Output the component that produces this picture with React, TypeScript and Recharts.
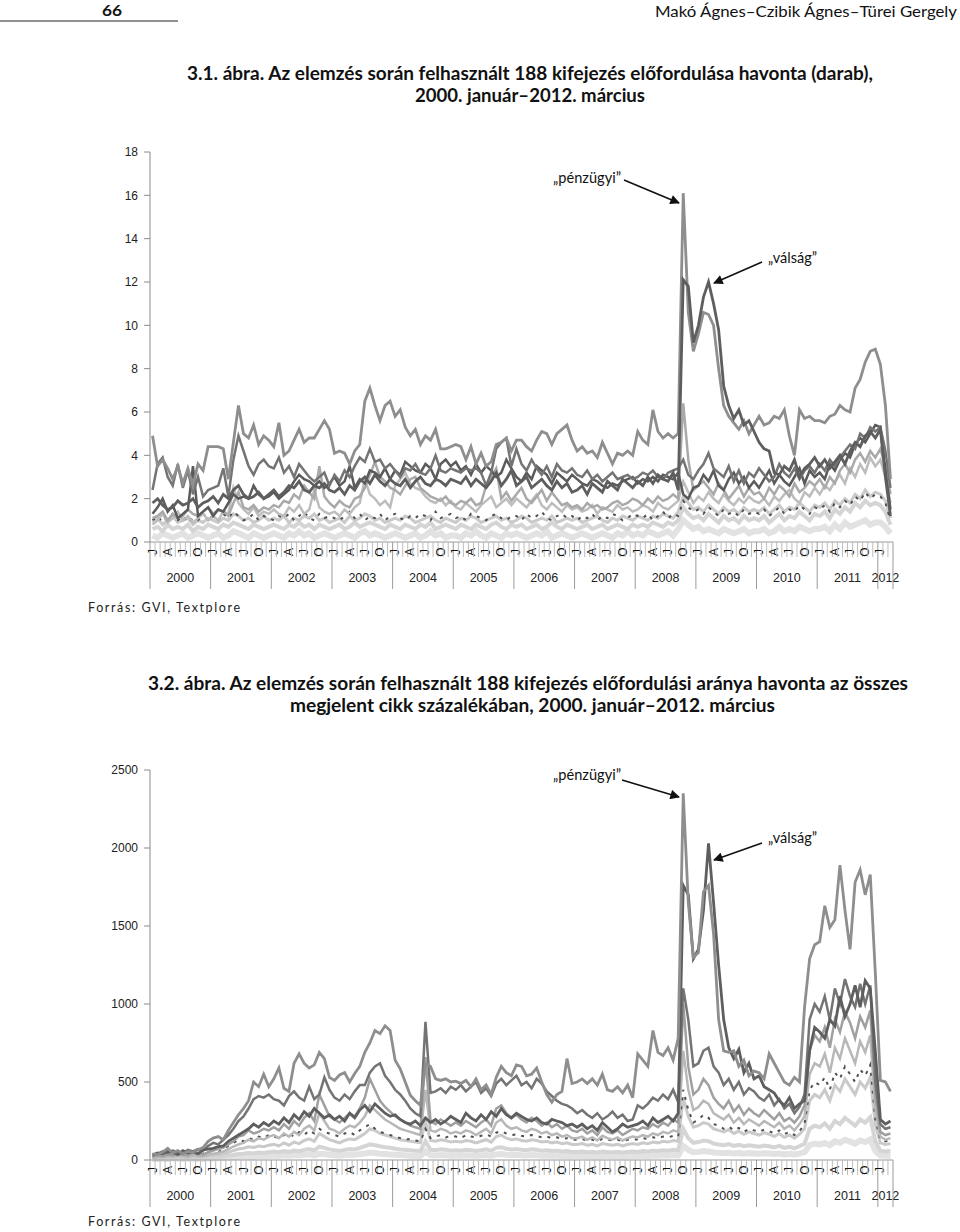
import React from 'react';
import { LineChart, Line, XAxis, YAxis } from 'recharts';

// ---- categories ----
const YEARS = ['2000', '2001', '2002', '2003', '2004', '2005', '2006', '2007', '2008', '2009', '2010', '2011', '2012'];
const MONTH_LETTERS = ['J', 'A', 'J', 'O'];
const COUNT_TICKS = [0, 2, 4, 6, 8, 10, 12, 14, 16, 18];
const SHARE_TICKS = [0, 500, 1000, 1500, 2000, 2500];

// ---- 3.1. ábra: occurrences per month (a few of the 188 series) ----
const countPenzugyi = [
  4.9, 3.5, 3.8, 3.4, 2.9, 3.5, 2.7, 3.4, 2.6, 3.6, 3.3, 4.4,
  4.4, 4.4, 4.3, 2.9, 4.6, 6.3, 5.0, 4.8, 5.4, 4.5, 4.9, 4.7,
  4.4, 5.5, 4.0, 4.2, 4.7, 5.2, 4.6, 4.8, 4.8, 5.2, 5.6, 5.2,
  4.1, 4.2, 4.1, 3.6, 4.2, 4.5, 6.5, 7.1, 6.3, 5.6, 6.3, 6.5,
  5.8, 6.1, 5.3, 4.9, 5.2, 4.5, 4.9, 4.7, 5.2, 4.3, 4.3, 4.4,
  4.5, 4.4, 3.8, 4.4, 3.6, 4.1, 3.5, 3.7, 4.5, 4.6, 4.8, 4.2,
  4.7, 4.7, 4.4, 4.2, 4.7, 5.1, 5.0, 4.5, 5.0, 5.2, 5.4, 4.7,
  4.2, 4.4, 4.1, 4.2, 3.9, 4.6, 4.1, 3.6, 4.1, 4.0, 4.2, 4.0,
  5.1, 4.7, 4.5, 6.1, 5.1, 4.8, 5.0, 4.8, 5.0, 16.1, 10.6, 8.8,
  9.6, 10.6, 10.5, 10.0, 8.0, 6.3, 5.8, 5.5, 5.2, 5.6, 5.0, 5.4,
  5.8, 5.4, 5.5, 5.8, 5.7, 6.1, 4.9, 4.0, 6.1, 5.7, 5.8, 5.6,
  5.6, 5.5, 5.8, 5.9, 6.3, 6.1, 6.0, 7.1, 7.5, 8.3, 8.8, 8.9,
  8.2, 6.3, 2.9,
];
const countValsag = [
  1.8, 2.0, 1.7, 1.5, 1.6, 1.9, 1.7, 1.8, 2.0, 1.6, 1.8, 1.9,
  2.1, 1.8, 2.2, 2.0, 2.4, 2.6, 2.2, 2.0, 2.1, 2.3, 2.0, 2.2,
  2.4, 2.1, 2.3, 2.6, 2.5, 2.8, 2.4, 2.3, 2.6, 2.5, 2.7, 2.4,
  2.3, 2.5, 2.2, 2.6, 2.4, 2.8, 3.0, 2.7, 3.1, 2.8, 2.6, 2.9,
  2.7, 2.6, 2.9, 2.5, 2.8, 3.0, 2.7, 2.6, 2.9, 2.8, 2.6, 2.9,
  2.8, 2.7, 3.0, 2.6, 2.9, 2.7, 2.5, 2.8, 3.2, 2.6, 2.9, 3.3,
  2.6, 2.8, 3.0, 2.5, 2.7, 2.9, 2.6, 2.4, 2.8, 2.5, 2.7, 2.3,
  2.4, 2.6, 2.2, 2.7, 2.5, 2.3, 2.8, 2.6, 2.4, 2.9, 2.7, 2.5,
  2.8, 2.6, 3.0, 2.7, 3.1, 2.9, 2.8, 3.2, 2.4, 12.1, 11.8, 9.2,
  10.0, 11.3, 12.0, 11.0, 9.8, 7.2, 6.3, 5.7, 6.1, 5.4, 5.6, 5.1,
  4.6, 4.3, 4.2, 3.2, 3.1, 3.5, 3.3, 3.8, 3.0, 3.4, 3.6, 3.9,
  3.5, 3.8, 3.4, 3.7, 4.0, 3.6, 4.2, 4.6, 4.4, 4.9, 5.1, 4.8,
  5.2, 3.0, 1.2,
];
const countMid1 = [
  2.4, 3.6, 3.9, 3.0, 2.6, 3.6, 2.5, 3.3, 2.2, 3.0, 2.1, 2.4,
  2.5, 2.6, 3.4, 2.1, 3.8, 4.9, 4.2, 3.5, 3.1, 3.6, 3.8, 3.5,
  3.4, 3.9, 3.2, 3.5, 3.0, 3.6, 3.3, 3.0, 2.8, 3.0, 3.2, 2.6,
  3.1, 2.8, 3.3, 3.0, 3.5, 3.9, 3.7, 4.3, 3.7, 3.8, 3.4, 3.6,
  3.3, 3.0, 3.4, 3.3, 3.6, 3.2, 3.1, 3.4, 4.0, 3.3, 3.2, 3.4,
  3.3, 3.2, 3.4, 3.3, 3.4, 3.2, 2.6, 3.2, 4.3, 4.6, 4.8, 3.5,
  4.3, 3.6, 3.3, 3.8, 3.4, 3.1, 3.5, 3.0, 3.6, 3.3, 3.2, 3.4,
  3.1, 3.0, 3.3, 2.9, 3.1, 2.8, 3.0, 3.2, 2.9, 3.0, 3.1, 2.9,
  3.0, 3.2, 3.1, 3.3, 3.0, 2.9, 3.2, 3.3, 3.4, 3.8, 3.1, 2.9,
  3.3, 3.6, 4.1, 3.4, 3.2, 3.0, 3.5, 2.8, 3.3, 2.7, 3.2, 3.0,
  3.4, 3.1, 2.8, 3.0, 3.6, 3.2, 3.0, 3.4, 2.9, 3.3, 3.5, 3.2,
  3.6, 3.3, 3.8, 3.5, 3.9, 4.2, 4.5, 4.3, 5.0, 4.8, 5.3, 5.1,
  5.3, 4.2, 2.5,
];
const countMid2 = [
  1.3, 1.6, 2.0, 1.4, 1.7, 1.1, 1.3, 1.5, 3.5, 1.2, 1.4, 1.6,
  1.2, 1.5, 1.4, 1.8, 2.2, 2.0, 2.1, 2.0, 2.6, 2.2, 2.0, 2.1,
  2.3, 2.0, 2.2, 2.4, 2.8, 3.1, 2.9, 2.8, 2.6, 2.8, 2.5, 2.7,
  3.0, 2.6, 2.8, 3.5, 2.5, 2.9, 2.7, 3.3, 3.2, 3.0, 3.4, 2.9,
  3.3, 3.1, 3.7, 3.5, 3.3, 3.2, 3.6, 3.4, 2.9, 3.6, 3.8, 3.5,
  3.7, 3.3, 3.5, 3.1, 3.6, 3.2, 3.5, 3.3, 3.0, 3.2, 3.8, 3.4,
  3.0, 2.8, 3.2, 2.9, 3.5, 3.3, 3.1, 2.7, 3.2, 3.0, 2.8, 3.1,
  2.9, 2.7, 2.6, 2.9, 2.8, 2.6, 2.5, 2.7, 2.6, 2.8, 2.9, 3.0,
  2.7, 2.9, 2.8, 3.0, 2.8, 3.1, 3.0, 2.9, 3.2, 2.2, 2.0, 2.5,
  2.6, 3.1, 2.8, 3.3, 2.6, 2.4, 2.9, 3.2, 2.7, 3.0, 2.5, 2.8,
  2.5, 2.9, 3.3, 2.7, 3.1, 2.8, 2.6, 3.0, 3.4, 2.7, 3.3, 3.0,
  3.2, 2.9, 3.6, 3.3, 3.8, 4.1, 3.9, 4.5, 4.8, 4.6, 5.0, 5.4,
  5.3, 3.3, 1.5,
];
const countLight1 = [
  1.1, 1.2, 1.4, 1.0, 1.3, 1.1, 1.2, 1.5, 1.3, 1.2, 1.4, 1.6,
  1.3, 1.5, 1.4, 1.2, 1.8, 2.3, 1.6, 1.5, 1.7, 1.4, 1.6, 1.5,
  1.7, 1.6, 1.9, 1.8, 2.2, 2.0, 2.6, 2.3, 2.0, 3.5, 2.1, 1.8,
  1.6, 1.9, 1.7, 1.6, 2.0, 2.1, 2.5, 3.1, 3.7, 3.0, 2.8, 2.5,
  2.4, 2.2, 2.6, 2.9, 3.0, 2.5, 2.3, 2.1, 2.0, 1.9, 2.1, 1.8,
  1.7, 1.9, 1.8, 2.0, 1.7, 1.8, 2.6, 3.0, 3.4, 2.0, 2.3, 1.9,
  2.2, 2.5, 2.0, 1.8, 2.1, 2.4, 1.9, 2.3, 2.0, 1.7, 1.8, 1.6,
  1.7, 1.5, 1.8, 1.6, 1.7, 1.5, 1.6, 1.8, 1.9, 1.7, 1.8, 2.0,
  1.9, 1.7, 2.0, 1.8, 2.1, 1.9, 2.0, 2.2, 2.0, 6.4, 3.8, 2.4,
  2.6, 2.8, 2.5, 2.2, 2.7, 2.4, 2.0, 2.3, 2.6, 2.1, 2.5, 2.2,
  2.3, 2.0, 2.5, 2.2, 2.6, 2.4, 2.1, 2.7, 2.3, 2.5, 2.8, 2.6,
  2.9, 2.5, 3.0, 2.7, 3.3, 3.6, 3.2, 3.8, 4.1, 3.7, 4.2, 3.9,
  4.3, 3.5, 2.2,
];
const countLight2 = [
  0.8, 1.0, 1.3, 0.9, 1.1, 1.4, 1.0, 1.2, 0.9, 1.1, 1.3, 1.0,
  1.2, 1.0, 1.4, 1.3, 2.5, 1.8, 1.5, 1.3, 1.6, 1.2, 1.4, 1.3,
  1.5, 1.3, 1.2, 1.6, 1.4, 1.7, 1.3, 1.5, 2.4, 1.6, 1.4, 1.3,
  1.4, 1.2, 1.5, 1.3, 1.6, 1.8, 2.9, 2.2, 2.0, 1.7, 1.9, 1.6,
  2.6, 2.9, 3.2, 2.7, 2.5, 2.4, 2.1, 1.9, 1.8, 2.0, 1.7, 1.9,
  1.6, 1.5, 1.8, 1.6, 1.4, 1.7, 1.9, 2.1, 1.6, 1.8, 2.0, 1.7,
  2.0, 1.8, 1.6, 1.9, 2.2, 1.7, 1.5, 1.8, 1.6, 1.4, 1.7, 1.5,
  1.6, 1.4, 1.5, 1.7, 1.3, 1.6, 1.5, 1.4, 1.7, 1.5, 1.6, 1.4,
  1.5, 1.7, 1.6, 1.4, 1.8, 1.6, 1.5, 1.7, 1.9, 2.8, 2.3, 1.8,
  2.1, 1.9, 2.3, 2.0, 1.8, 2.2, 1.9, 1.7, 2.0, 1.8, 2.1, 1.9,
  1.8, 2.0, 1.7, 2.1, 1.9, 2.2, 2.4, 2.0, 1.8, 2.3, 2.1, 2.5,
  2.2, 2.6, 2.4, 2.8, 3.1, 2.7, 3.4, 3.0, 3.6, 3.2, 3.9, 3.5,
  3.8, 3.0, 1.8,
];
const countBack1 = [
  0.9, 1.1, 0.8, 1.0, 1.2, 0.9, 1.0, 1.1, 0.8, 1.0, 0.9, 1.1,
  1.0, 0.9, 1.1, 1.0, 1.3, 1.2, 1.0, 1.1, 0.9, 1.0, 1.2, 1.0,
  1.1, 1.0, 1.2, 0.9, 1.1, 1.0, 1.2, 1.1, 1.3, 1.0, 1.1, 0.9,
  1.0, 1.1, 0.9, 1.2, 1.0, 1.1, 1.3, 1.2, 1.0, 1.1, 0.9, 1.0,
  1.1, 1.0, 1.2, 1.1, 0.9, 1.0, 1.1, 1.2, 1.0, 0.9, 1.1, 1.0,
  0.9, 1.1, 1.0, 1.2, 1.1, 0.9, 1.0, 1.1, 1.2, 1.0, 1.1, 0.9,
  1.0, 1.2, 1.1, 0.9, 1.0, 1.1, 1.0, 1.2, 0.9, 1.0, 1.1, 1.0,
  1.1, 0.9, 1.0, 1.1, 1.2, 1.0, 0.9, 1.1, 1.0, 1.2, 1.1, 1.0,
  1.2, 1.1, 1.0, 1.2, 1.1, 1.3, 1.2, 1.1, 1.4, 2.1, 1.8, 1.5,
  1.6, 1.4, 1.7, 1.5, 1.3, 1.6, 1.4, 1.5, 1.3, 1.6, 1.4, 1.5,
  1.4, 1.6, 1.3, 1.5, 1.7, 1.4, 1.6, 1.5, 1.8, 1.6, 1.4, 1.7,
  1.6, 1.8, 1.5, 1.9, 1.7, 2.0, 1.8, 2.2, 2.0, 2.4, 2.1, 2.3,
  2.2, 1.9, 1.1,
];
const countBack2 = [
  0.6, 0.7, 0.5, 0.8, 0.6, 0.7, 0.6, 0.8, 0.5, 0.7, 0.6, 0.8,
  0.7, 0.6, 0.8, 0.7, 0.9, 0.8, 0.7, 0.6, 0.8, 0.7, 0.6, 0.7,
  0.8, 0.7, 0.6, 0.8, 0.7, 0.9, 0.7, 0.8, 0.6, 0.8, 0.7, 0.6,
  0.7, 0.8, 0.6, 0.7, 0.9, 0.7, 0.8, 0.9, 0.8, 0.7, 0.6, 0.8,
  0.7, 0.6, 0.8, 0.7, 0.6, 0.8, 0.7, 0.9, 0.6, 0.7, 0.8, 0.7,
  0.6, 0.8, 0.7, 0.6, 0.8, 0.7, 0.6, 0.8, 0.9, 0.7, 0.6, 0.8,
  0.7, 0.8, 0.6, 0.7, 0.8, 0.6, 0.7, 0.9, 0.7, 0.6, 0.8, 0.7,
  0.6, 0.7, 0.8, 0.6, 0.7, 0.8, 0.6, 0.7, 0.8, 0.7, 0.6, 0.8,
  0.7, 0.8, 0.7, 0.9, 0.8, 0.7, 0.9, 0.8, 1.0, 1.6, 1.3, 1.1,
  1.2, 1.0, 1.3, 1.1, 0.9, 1.2, 1.0, 1.1, 0.9, 1.2, 1.0, 1.1,
  1.0, 1.2, 0.9, 1.1, 1.3, 1.0, 1.2, 1.1, 1.4, 1.2, 1.0, 1.3,
  1.2, 1.4, 1.1, 1.5, 1.3, 1.6, 1.4, 1.8, 1.6, 1.9, 1.7, 1.8,
  1.7, 1.4, 0.8,
];
const countBack3 = [
  0.3, 0.2, 0.4, 0.3, 0.2, 0.3, 0.4, 0.2, 0.3, 0.4, 0.3, 0.2,
  0.3, 0.4, 0.2, 0.3, 0.5, 0.4, 0.3, 0.2, 0.4, 0.3, 0.2, 0.3,
  0.4, 0.3, 0.2, 0.4, 0.3, 0.5, 0.3, 0.4, 0.2, 0.3, 0.4, 0.3,
  0.2, 0.3, 0.4, 0.3, 0.2, 0.4, 0.5, 0.3, 0.4, 0.3, 0.2, 0.3,
  0.4, 0.3, 0.2, 0.3, 0.4, 0.2, 0.3, 0.5, 0.3, 0.4, 0.2, 0.3,
  0.3, 0.2, 0.4, 0.3, 0.5, 0.3, 0.2, 0.4, 0.3, 0.2, 0.4, 0.3,
  0.4, 0.3, 0.2, 0.3, 0.4, 0.3, 0.5, 0.2, 0.3, 0.4, 0.3, 0.2,
  0.3, 0.4, 0.3, 0.2, 0.3, 0.4, 0.3, 0.2, 0.4, 0.3, 0.5, 0.3,
  0.4, 0.3, 0.5, 0.4, 0.3, 0.4, 0.5, 0.3, 0.6, 1.0, 0.8, 0.6,
  0.7, 0.5, 0.6, 0.5, 0.4, 0.6, 0.5, 0.4, 0.5, 0.6, 0.4, 0.5,
  0.5, 0.6, 0.4, 0.5, 0.7, 0.5, 0.6, 0.5, 0.7, 0.6, 0.5, 0.6,
  0.6, 0.7, 0.5, 0.8, 0.6, 0.9, 0.7, 0.8, 0.9, 1.0, 0.8, 0.9,
  0.9, 0.7, 0.4,
];
const countDark = [
  1.0, 1.2, 0.9, 1.1, 1.3, 1.0, 1.2, 0.9, 1.1, 1.0, 1.3, 1.1,
  1.2, 1.0, 1.3, 1.1, 1.4, 1.2, 1.0, 1.1, 1.3, 1.0, 1.2, 1.1,
  1.0, 1.2, 1.1, 1.3, 1.0, 1.2, 1.4, 1.1, 1.0, 1.3, 1.1, 1.2,
  1.1, 1.0, 1.2, 1.4, 1.1, 1.3, 1.0, 1.2, 1.1, 1.3, 1.0, 1.2,
  1.3, 1.1, 1.0, 1.2, 1.1, 1.3, 1.2, 1.0, 1.4, 1.1, 1.2, 1.3,
  1.1, 1.2, 1.0, 1.3, 1.2, 1.1, 1.0, 1.2, 1.3, 1.1, 1.0, 1.2,
  1.2, 1.0, 1.3, 1.1, 1.2, 1.4, 1.1, 1.0, 1.2, 1.3, 1.1, 1.2,
  1.0, 1.2, 1.1, 1.3, 1.0, 1.2, 1.1, 1.3, 1.2, 1.0, 1.1, 1.3,
  1.2, 1.1, 1.3, 1.0, 1.2, 1.4, 1.1, 1.3, 1.2, 1.9, 1.6, 1.4,
  1.5, 1.3, 1.6, 1.4, 1.2, 1.5, 1.3, 1.4, 1.2, 1.5, 1.3, 1.4,
  1.3, 1.5, 1.2, 1.4, 1.6, 1.3, 1.5, 1.4, 1.7, 1.5, 1.3, 1.6,
  1.5, 1.7, 1.4, 1.8, 1.6, 1.9, 1.7, 2.1, 1.9, 2.3, 2.0, 2.2,
  2.1, 1.8, 1.0,
];

// ---- 3.2. ábra: share of all articles ----
const sharePenzugyi = [
  40, 35, 50, 75, 45, 60, 40, 55, 50, 65, 80, 120,
  140, 150, 130, 190, 240, 290, 330, 380, 500, 470, 550, 470,
  520, 590, 460, 440, 620, 680, 620, 590, 610, 690, 650, 530,
  510, 545, 560, 500, 555, 600, 690, 750, 830, 810, 860, 830,
  640, 585, 500, 415, 380, 350, 620, 600, 520, 510, 520, 500,
  505, 490, 510, 470, 520, 450, 480, 420, 530, 600, 560, 540,
  610, 600, 540, 550, 590, 500, 420, 370, 420, 440, 650, 490,
  500, 520, 490, 520, 480, 550, 450, 440, 470, 430, 480, 400,
  680, 640, 600, 830, 690, 670, 720, 640, 780, 2350, 1650, 1300,
  1330, 1720, 1760, 1450, 900, 700, 690, 700, 600, 640, 540, 570,
  560, 520, 680, 620, 560, 500, 480, 530, 500, 980, 1290, 1380,
  1400, 1630, 1490, 1540, 1890, 1600, 1350, 1780, 1860, 1700, 1830, 1200,
  510, 500, 440,
];
const shareValsag = [
  30, 45, 40, 55, 50, 35, 60, 45, 55, 40, 65, 70,
  75, 85, 90, 120, 140, 160, 180, 200, 230, 210, 240, 220,
  250, 230, 270, 240, 290, 260, 310, 280, 330, 300, 270, 290,
  260, 280, 250, 300, 270, 320, 350, 310, 360, 330, 300, 280,
  290, 260, 240, 230, 250, 220, 270, 240, 260, 230, 250, 280,
  260, 240, 300, 270, 250, 290, 260, 310, 280, 330, 290, 270,
  300, 280, 260, 250, 270, 240, 230, 260, 250, 240, 220, 230,
  210, 230, 200, 220, 190, 240, 210, 180, 200, 230, 210, 220,
  230, 250, 220, 270, 240, 260, 280, 250, 300, 1760, 1700, 1290,
  1350, 1600, 2030, 1650, 1250, 900, 720, 650, 710, 560, 620, 520,
  540, 470, 450, 430, 380, 350, 400, 330, 360, 380, 700, 850,
  820, 780, 900, 860, 1050, 920, 1000, 1120, 980, 1150, 1100, 700,
  260, 230, 250,
];
const shareMid1 = [
  35, 40, 55, 45, 60, 50, 40, 65, 55, 70, 60, 90,
  110, 100, 130, 160, 200, 250, 280, 330, 390, 410, 400, 420,
  390, 380, 350, 410, 440, 400, 380, 470, 390, 420, 530, 450,
  400, 380, 420, 390, 440, 480, 480, 560, 600, 620, 540, 500,
  450, 420, 380, 330, 300, 280, 885, 430, 440, 460, 430, 470,
  450, 480, 440, 470, 500, 430, 460, 410, 490, 520, 480, 510,
  540, 480, 500, 460, 520, 490, 440, 410, 380, 360, 350, 330,
  300, 320, 290, 270, 300, 260, 280, 310, 270, 290, 250, 260,
  350, 330, 360, 400, 380, 420, 390, 450, 370, 1100, 900, 600,
  620, 700, 720, 600, 560, 480, 520, 450, 500, 420, 460, 440,
  400, 380, 420, 350, 390, 330, 360, 300, 340, 420, 900, 1000,
  950, 1050, 900, 1100, 1000, 1160, 1050, 980, 1130, 1000, 1120, 500,
  230, 200, 210,
];
const shareMid2 = [
  20, 30, 25, 35, 30, 40, 35, 30, 45, 40, 35, 50,
  60, 70, 80, 100, 120, 150, 160, 190, 170, 180, 200, 190,
  210, 190, 230, 200, 250, 220, 270, 300, 250, 420, 350, 280,
  260, 240, 270, 300, 280, 330, 400, 520, 450, 380, 340, 310,
  280, 260, 240, 220, 210, 200, 660, 250, 230, 260, 240, 220,
  240, 220, 250, 230, 210, 240, 260, 220, 330, 350, 300, 270,
  290, 260, 240, 270, 250, 220, 240, 210, 230, 200, 220, 190,
  180, 200, 170, 190, 160, 210, 180, 170, 190, 160, 180, 200,
  190, 210, 200, 230, 210, 240, 220, 260, 240, 1000, 600, 420,
  450, 520, 480, 400, 360, 330, 380, 310, 350, 290, 330, 300,
  280, 320, 290, 260, 300, 250, 270, 240, 280, 350, 700, 800,
  760, 850, 720, 900, 820, 950, 880, 780, 920, 850, 960, 420,
  180, 160, 170,
];
const shareLight1 = [
  15, 20, 18, 25, 22, 28, 25, 20, 30, 26, 24, 35,
  40, 45, 55, 70, 85, 100, 110, 130, 120, 140, 130, 150,
  160, 140, 170, 150, 180, 160, 200, 220, 190, 300, 250, 200,
  190, 170, 200, 220, 210, 240, 280, 350, 320, 290, 260, 240,
  220, 200, 190, 180, 170, 160, 450, 190, 180, 200, 190, 170,
  180, 170, 190, 180, 160, 180, 200, 170, 240, 260, 220, 200,
  210, 190, 180, 200, 190, 170, 180, 160, 170, 150, 160, 140,
  140, 150, 130, 145, 125, 155, 140, 130, 145, 125, 140, 150,
  145, 160, 150, 170, 160, 180, 170, 190, 180, 700, 450, 320,
  340, 380, 360, 300, 280, 260, 290, 240, 270, 230, 260, 240,
  220, 250, 230, 210, 240, 200, 220, 190, 230, 280, 550, 620,
  600, 680, 560, 720, 650, 780, 700, 620, 760, 690, 800, 330,
  150, 130, 140,
];
const shareBack1 = [
  10, 15, 12, 18, 15, 20, 18, 15, 22, 18, 20, 25,
  30, 35, 40, 50, 60, 70, 75, 85, 80, 90, 85, 95,
  100, 90, 110, 95, 115, 105, 125, 135, 120, 170, 150, 130,
  120, 110, 125, 135, 130, 150, 170, 200, 190, 170, 160, 150,
  140, 130, 125, 120, 115, 110, 250, 125, 120, 130, 125, 115,
  120, 115, 125, 120, 110, 120, 130, 115, 150, 160, 140, 130,
  135, 125, 120, 130, 125, 115, 120, 110, 115, 105, 110, 100,
  100, 105, 95, 100, 90, 105, 100, 95, 100, 90, 100, 105,
  100, 110, 105, 115, 110, 120, 115, 125, 120, 400, 280, 210,
  220, 240, 230, 200, 190, 180, 195, 170, 185, 165, 180, 170,
  160, 175, 165, 150, 170, 145, 160, 140, 165, 200, 380, 420,
  400, 450, 380, 480, 440, 520, 470, 420, 500, 460, 530, 230,
  110, 100, 105,
];
const shareBack2 = [
  5, 8, 6, 10, 8, 12, 10, 8, 12, 10, 11, 14,
  16, 18, 22, 28, 32, 38, 40, 45, 42, 48, 45, 50,
  55, 50, 58, 52, 60, 56, 65, 70, 62, 85, 78, 68,
  62, 58, 65, 70, 68, 78, 88, 100, 95, 88, 82, 78,
  72, 68, 65, 62, 60, 58, 120, 65, 62, 68, 65, 60,
  62, 60, 65, 62, 58, 62, 68, 60, 78, 82, 72, 68,
  70, 65, 62, 68, 65, 60, 62, 58, 60, 55, 58, 52,
  52, 55, 50, 52, 48, 55, 52, 50, 52, 48, 52, 55,
  52, 58, 55, 60, 58, 62, 60, 65, 62, 200, 140, 110,
  115, 125, 120, 105, 100, 95, 102, 90, 98, 88, 95, 90,
  85, 92, 88, 80, 90, 78, 85, 75, 88, 105, 200, 220,
  210, 235, 200, 250, 230, 270, 245, 220, 260, 240, 275, 120,
  60, 55, 58,
];
const shareBack3 = [
  8, 5, 10, 7, 12, 9, 6, 11, 8, 10, 7, 12,
  10, 12, 14, 16, 18, 20, 22, 24, 20, 25, 22, 26,
  28, 25, 30, 27, 32, 29, 34, 36, 30, 40, 38, 33,
  30, 28, 32, 35, 33, 38, 42, 48, 45, 40, 38, 36,
  34, 32, 30, 28, 27, 26, 55, 30, 29, 32, 30, 28,
  29, 28, 30, 29, 27, 29, 32, 28, 36, 38, 34, 32,
  33, 30, 29, 32, 30, 28, 29, 27, 28, 26, 27, 25,
  25, 26, 24, 25, 23, 26, 25, 24, 25, 23, 25, 26,
  25, 28, 26, 29, 28, 30, 29, 32, 30, 90, 65, 50,
  52, 58, 55, 48, 46, 44, 47, 42, 45, 40, 44, 42,
  40, 43, 41, 38, 42, 36, 40, 35, 41, 50, 95, 105,
  100, 110, 95, 120, 110, 130, 118, 105, 125, 115, 132, 58,
  30, 27, 28,
];
const shareDark = [
  20, 30, 45, 35, 60, 40, 55, 35, 50, 45, 40, 55,
  60, 50, 70, 90, 110, 130, 120, 140, 130, 150, 140, 160,
  150, 140, 160, 170, 150, 180, 160, 190, 170, 200, 180, 170,
  160, 150, 170, 180, 160, 190, 210, 230, 200, 180, 170, 160,
  150, 140, 130, 135, 125, 120, 200, 140, 150, 160, 145, 155,
  150, 140, 160, 150, 145, 155, 165, 150, 175, 185, 170, 160,
  165, 155, 150, 160, 155, 145, 150, 140, 145, 135, 140, 130,
  130, 135, 125, 130, 120, 135, 130, 125, 130, 120, 130, 135,
  130, 140, 135, 145, 140, 150, 145, 155, 150, 450, 320, 240,
  260, 290, 270, 230, 220, 200, 215, 190, 205, 180, 200, 190,
  180, 195, 185, 170, 190, 165, 180, 160, 185, 230, 450, 500,
  480, 530, 450, 560, 520, 600, 550, 500, 580, 540, 610, 260,
  130, 120, 125,
];

const MONTHS = countPenzugyi.map((_, i) => i);

type Series = { key: string; values: number[]; color: string; width: number; dash?: string };

// drawn in this order (background first)
const COUNT_SERIES: Series[] = [
  { key: 'back3', values: countBack3, color: '#e2e2e2', width: 6 },
  { key: 'back2', values: countBack2, color: '#d5d5d5', width: 4 },
  { key: 'back1', values: countBack1, color: '#cacaca', width: 3 },
  { key: 'dark', values: countDark, color: '#505050', width: 2, dash: '3 6' },
  { key: 'light2', values: countLight2, color: '#bdbdbd', width: 2.5 },
  { key: 'light1', values: countLight1, color: '#a9a9a9', width: 2.5 },
  { key: 'mid2', values: countMid2, color: '#5a5a5a', width: 2.5 },
  { key: 'mid1', values: countMid1, color: '#747474', width: 2.5 },
  { key: 'penzugyi', values: countPenzugyi, color: '#8e8e8e', width: 2.8 },
  { key: 'valsag', values: countValsag, color: '#5e5e5e', width: 2.8 },
];

const SHARE_SERIES: Series[] = [
  { key: 'back3', values: shareBack3, color: '#e2e2e2', width: 6 },
  { key: 'back2', values: shareBack2, color: '#d5d5d5', width: 4 },
  { key: 'back1', values: shareBack1, color: '#cacaca', width: 3 },
  { key: 'dark', values: shareDark, color: '#505050', width: 2, dash: '3 6' },
  { key: 'light1', values: shareLight1, color: '#b8b8b8', width: 2.5 },
  { key: 'mid2', values: shareMid2, color: '#a0a0a0', width: 2.5 },
  { key: 'mid1', values: shareMid1, color: '#747474', width: 2.5 },
  { key: 'valsag', values: shareValsag, color: '#5e5e5e', width: 2.8 },
  { key: 'penzugyi', values: sharePenzugyi, color: '#8e8e8e', width: 2.8 },
];

const buildData = (series: Series[]) =>
  MONTHS.map((i) => {
    const row: Record<string, number> = { i };
    series.forEach((s) => { row[s.key] = s.values[i]; });
    return row;
  });

const countData = buildData(COUNT_SERIES);
const shareData = buildData(SHARE_SERIES);

// ---- layout ----
const CHART_W = 910;
const CHART_H = 460;
const MARGIN = { top: 12, right: 17, bottom: 0, left: 0 };
const Y_AXIS_W = 150;
const X_AXIS_H = 58;
const PLOT_W = CHART_W - MARGIN.left - MARGIN.right - Y_AXIS_W;
const STEP = PLOT_W / MONTHS.length;

const SANS = "'Liberation Sans', Arial, sans-serif";
const BOOK = "Lato, 'Open Sans', 'Noto Sans', sans-serif";

function MonthTick(props: any) {
  const { x, y, payload } = props;
  const i = payload.value as number;
  const n = MONTHS.length;
  const left = x - STEP / 2;
  const yearStart = i % 12 === 0;
  const year = Math.floor(i / 12);
  const inYear = Math.min(12, n - year * 12);
  const m = i % 12;
  let yearX: number | null = null;
  if (inYear % 2 === 0 && m === inYear / 2) yearX = left;
  if (inYear % 2 === 1 && m === (inYear - 1) / 2) yearX = x;
  return (
    <g>
      <line x1={left} x2={left} y1={y} y2={y + (yearStart ? 47 : 15)} stroke={yearStart ? '#9a9a9a' : '#bdbdbd'} strokeWidth={1} />
      {i === n - 1 && (
        <line x1={x + STEP / 2} x2={x + STEP / 2} y1={y} y2={y + 47} stroke="#9a9a9a" strokeWidth={1} />
      )}
      {m % 3 === 0 && (
        <text
          x={x}
          y={y + 10}
          transform={`rotate(-90 ${x} ${y + 10})`}
          textAnchor="middle"
          dominantBaseline="central"
          fontSize={12}
          fontFamily={SANS}
          fill="#111"
        >
          {MONTH_LETTERS[m / 3]}
        </text>
      )}
      {yearX !== null && (
        <text x={yearX} y={y + 40} textAnchor="middle" fontSize={12.5} fontFamily={SANS} fill="#222">
          {YEARS[year]}
        </text>
      )}
    </g>
  );
}

function MonthlyChart({ data, series, max, ticks, top }: { data: any[]; series: Series[]; max: number; ticks: number[]; top: number }) {
  return (
    <div style={{ position: 'absolute', left: 0, top, width: CHART_W, height: CHART_H }}>
      <LineChart width={CHART_W} height={CHART_H} data={data} margin={MARGIN}>
        <XAxis
          dataKey="i"
          type="number"
          domain={[-0.5, MONTHS.length - 0.5]}
          ticks={MONTHS}
          interval={0}
          height={X_AXIS_H}
          tickSize={0}
          tickMargin={0}
          tickLine={false}
          axisLine={{ stroke: '#9a9a9a' }}
          tick={(p: any) => <MonthTick {...p} />}
        />
        <YAxis
          width={Y_AXIS_W}
          domain={[0, max]}
          ticks={ticks}
          interval={0}
          tickSize={6}
          tickMargin={6}
          axisLine={{ stroke: '#8a8a8a' }}
          tickLine={{ stroke: '#8a8a8a' }}
          tick={{ fontSize: 12, fill: '#222', fontFamily: SANS }}
        />
        {series.map((s) => (
          <Line
            key={s.key}
            dataKey={s.key}
            stroke={s.color}
            strokeWidth={s.width}
            strokeDasharray={s.dash}
            dot={false}
            activeDot={false}
            isAnimationActive={false}
            type="linear"
          />
        ))}
      </LineChart>
    </div>
  );
}

function Arrow({ x1, y1, x2, y2 }: { x1: number; y1: number; x2: number; y2: number }) {
  return <line x1={x1} y1={y1} x2={x2} y2={y2} stroke="#111" strokeWidth={1.6} markerEnd="url(#arrowHead)" />;
}

function FitText({ x, y, w, size, bold, children }: { x: number; y: number; w: number; size: number; bold?: boolean; children: string }) {
  return (
    <text x={x} y={y} fontFamily={BOOK} fontWeight={bold ? 700 : 400} fontSize={size} textLength={w} lengthAdjust="spacingAndGlyphs" fill="#111">
      {children}
    </text>
  );
}

export default function App() {
  return (
    <div style={{ position: 'absolute', left: 0, top: 0, width: 960, height: 1232, background: '#fff', overflow: 'hidden' }}>
      <MonthlyChart data={countData} series={COUNT_SERIES} max={18} ticks={COUNT_TICKS} top={140} />
      <MonthlyChart data={shareData} series={SHARE_SERIES} max={2500} ticks={SHARE_TICKS} top={758} />
      <svg width={960} height={1232} style={{ position: 'absolute', left: 0, top: 0, pointerEvents: 'none' }}>
        <defs>
          <marker id="arrowHead" viewBox="0 0 10 10" refX="9" refY="5" markerWidth="7" markerHeight="6" orient="auto">
            <path d="M0,0 L10,5 L0,10 z" fill="#111" />
          </marker>
        </defs>
        {/* page header */}
        <FitText x={102} y={16} w={20} size={15} bold>66</FitText>
        <line x1={0} x2={178} y1={21} y2={21} stroke="#222" strokeWidth={1} />
        <FitText x={655} y={17} w={302} size={16}>Makó Ágnes–Czibik Ágnes–Türei Gergely</FitText>

        {/* titles */}
        <FitText x={187} y={80} w={686} size={19} bold>3.1. ábra. Az elemzés során felhasznált 188 kifejezés előfordulása havonta (darab),</FitText>
        <FitText x={415} y={102} w={230} size={19} bold>2000. január–2012. március</FitText>
        <FitText x={148} y={690} w={760} size={19} bold>3.2. ábra. Az elemzés során felhasznált 188 kifejezés előfordulási aránya havonta az összes</FitText>
        <FitText x={290} y={712} w={485} size={19} bold>megjelent cikk százalékában, 2000. január–2012. március</FitText>

        {/* annotations, chart 1 */}
        <FitText x={553} y={183} w={68} size={15}>„pénzügyi”</FitText>
        <Arrow x1={624} y1={180} x2={679} y2={203} />
        <FitText x={768} y={263} w={49} size={15}>„válság”</FitText>
        <Arrow x1={762} y1={262} x2={714} y2={283} />

        {/* annotations, chart 2 */}
        <FitText x={553} y={780} w={68} size={15}>„pénzügyi”</FitText>
        <Arrow x1={622} y1={780} x2={679} y2={797} />
        <FitText x={768} y={843} w={49} size={15}>„válság”</FitText>
        <Arrow x1={762} y1={843} x2={714} y2={860} />

        {/* sources */}
        <text x={88} y={612} fontFamily={BOOK} fontSize={12.5} textLength={152} lengthAdjust="spacing" fill="#222">Forrás: GVI, Textplore</text>
        <text x={88} y={1226} fontFamily={BOOK} fontSize={12.5} textLength={152} lengthAdjust="spacing" fill="#222">Forrás: GVI, Textplore</text>
      </svg>
    </div>
  );
}
